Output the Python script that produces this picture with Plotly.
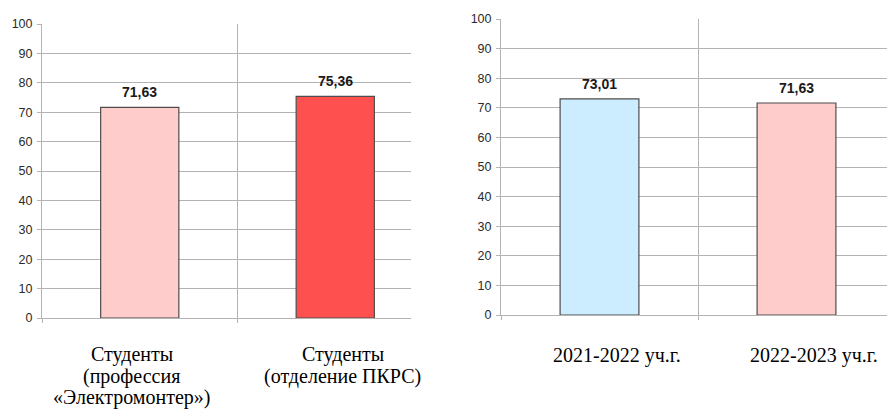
import plotly.graph_objects as go

# ---- data ----
left_categories = ["Студенты (профессия «Электромонтер»)", "Студенты (отделение ПКРС)"]
left_label_lines = [["Студенты", "(профессия", "«Электромонтер»)"],
                    ["Студенты", "(отделение ПКРС)"]]
left_values = [71.63, 75.36]
left_text = ["71,63", "75,36"]

right_categories = ["2021-2022 уч.г.", "2022-2023 уч.г."]
right_values = [73.01, 71.63]
right_text = ["73,01", "71,63"]

y_ticks = [0, 10, 20, 30, 40, 50, 60, 70, 80, 90, 100]

# ---- styles ----
W, H = 887, 410
left_colors = ["#FFCCCC", "#FF5050"]
right_colors = ["#CCECFF", "#FFCCCC"]
grid_c = "#B3B3B3"
outline = "#4D4D4D"

fig = go.Figure()
fig.add_trace(go.Bar(x=[0, 1], y=left_values, width=0.40,
                     marker=dict(color=left_colors, line=dict(color=outline, width=1.2)),
                     xaxis="x", yaxis="y", showlegend=False, hoverinfo="skip"))
fig.add_trace(go.Bar(x=[0, 1], y=right_values, width=0.40,
                     marker=dict(color=right_colors, line=dict(color=outline, width=1.2)),
                     xaxis="x2", yaxis="y2", showlegend=False, hoverinfo="skip"))

def px_dom(a, b, total):
    return [a / total, b / total]

axis_common_x = dict(tickmode="array", tickvals=[-0.5, 0.5, 1.5], showticklabels=False,
                     ticks="outside", ticklen=4, tickcolor=grid_c,
                     showgrid=True, gridcolor=grid_c, gridwidth=1,
                     showline=True, linecolor=grid_c, linewidth=1, zeroline=False,
                     fixedrange=True)
axis_common_y = dict(range=[0, 100], tickvals=y_ticks, ticks="outside", ticklen=4,
                     tickcolor=grid_c, showgrid=True, gridcolor=grid_c, gridwidth=1,
                     showline=True, linecolor=grid_c, linewidth=1,
                     zeroline=True, zerolinecolor=grid_c, zerolinewidth=1,
                     tickfont=dict(family="Liberation Sans, Arial", size=12.5, color="#2B2B2B"),
                     ticklabelstandoff=2, automargin=False, fixedrange=True)

lx0, lx1 = 42, 411
rx0, rx1 = 501, 887
cat_w_left = 195.5
cat_w_right = 197.0

fig.update_layout(
    width=W, height=H, margin=dict(l=0, r=0, t=0, b=0, autoexpand=False),
    paper_bgcolor="white", plot_bgcolor="white",
    bargap=0,
    xaxis=dict(domain=px_dom(lx0, lx1, W), anchor="y",
               range=[-0.5, -0.5 + (lx1 - lx0) / cat_w_left], **axis_common_x),
    yaxis=dict(domain=[(H - 318) / H, (H - 24) / H], anchor="x", **axis_common_y),
    xaxis2=dict(domain=px_dom(rx0, rx1, W), anchor="y2",
                range=[-0.5, -0.5 + (rx1 - rx0) / cat_w_right], **axis_common_x),
    yaxis2=dict(domain=[(H - 315) / H, (H - 19) / H], anchor="x2", **axis_common_y),
)

ann = []
val_font = dict(family="Liberation Sans, Arial", size=14, color="#1A1A1A")
for i, (v, t) in enumerate(zip(left_values, left_text)):
    ann.append(dict(x=i, y=v, xref="x", yref="y", text="<b>%s</b>" % t, showarrow=False,
                    yanchor="bottom", yshift=5, font=val_font))
for i, (v, t) in enumerate(zip(right_values, right_text)):
    ann.append(dict(x=i, y=v, xref="x2", yref="y2", text="<b>%s</b>" % t, showarrow=False,
                    yanchor="bottom", yshift=5, font=val_font))

cat_font = dict(family="Liberation Serif, Times New Roman", size=20, color="black")
left_xshift = [-8, 7.5]
line_y = [354, 376, 397]
for i, lines in enumerate(left_label_lines):
    for j, line in enumerate(lines):
        ann.append(dict(x=i, xref="x", y=(H - line_y[j]) / H, yref="paper", text=line,
                        showarrow=False, xanchor="center", yanchor="middle",
                        xshift=left_xshift[i], font=cat_font))
right_xshift = [17, 17]
for i, c in enumerate(right_categories):
    ann.append(dict(x=i, xref="x2", y=(H - 355) / H, yref="paper", text=c,
                    showarrow=False, xanchor="center", yanchor="middle",
                    xshift=right_xshift[i], font=cat_font))

fig.update_layout(annotations=ann)
fig.write_html("out.html", config={"displayModeBar": False, "staticPlot": True},
               post_script="document.body.style.margin='0';document.body.style.overflow='hidden';")
